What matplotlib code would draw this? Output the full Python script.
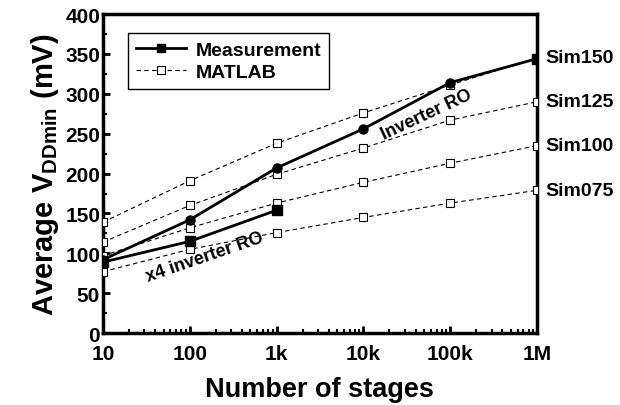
import matplotlib.pyplot as plt
from matplotlib.ticker import FixedLocator, MultipleLocator, LogLocator, NullFormatter

plt.rcParams['font.family'] = ['Liberation Sans', 'DejaVu Sans']
plt.rcParams['font.weight'] = 'bold'
plt.rcParams['mathtext.fontset'] = 'custom'
plt.rcParams['mathtext.bf'] = 'Liberation Sans:bold'

stages = [10, 100, 1e3, 1e4, 1e5, 1e6]
stage_labels = ['10', '100', '1k', '10k', '100k', '1M']

sim_names = ['Sim150', 'Sim125', 'Sim100', 'Sim075']
sim150 = [139, 191, 238, 276, 311, 345]
sim125 = [114, 160, 199, 232, 267, 290]
sim100 = [97, 132, 163, 189, 213, 235]
sim075 = [77, 105, 126, 145, 163, 179]

inv_ro = [92, 142, 207, 256, 314, 344]
x4_stages = [10, 100, 1e3]
x4_ro = [89, 115, 154]

fig, ax = plt.subplots(figsize=(6.2, 4.06), dpi=100)
fig.subplots_adjust(left=0.166, right=0.866, top=0.963, bottom=0.177)

for vals in [sim150, sim125, sim100, sim075]:
    ax.plot(stages, vals, ls=(0, (4, 3)), lw=0.8, color='black', marker='s',
            ms=6, mfc='white', mec='black', mew=0.8, zorder=3)

ax.plot(stages[:5], inv_ro[:5], '-o', color='black', lw=2, ms=6.5, zorder=4)
ax.plot(stages[4:], inv_ro[4:], '-', color='black', lw=2, zorder=4)
ax.plot(stages[5:], inv_ro[5:], 's', color='black', ms=6.5, zorder=4)
ax.plot(x4_stages, x4_ro, '-s', color='black', lw=2, ms=6.5, zorder=4)

# legend proxies
ax.plot([], [], '-s', color='black', lw=2, ms=6, label='Measurement')
ax.plot([], [], ls=(0, (4, 3)), lw=0.8, color='black', marker='s', ms=6,
        mfc='white', mec='black', mew=0.8, label='MATLAB')
handles, labels = ax.get_legend_handles_labels()
leg = ax.legend(handles[-2:], labels[-2:], loc='upper left', bbox_to_anchor=(0.035, 0.97),
                fancybox=False, edgecolor='black', framealpha=1, fontsize=14,
                handlelength=2.6, handletextpad=0.5, borderpad=0.4, labelspacing=0.25)
leg.get_frame().set_linewidth(1.0)

ax.text(5.4e4, 275, 'Inverter RO', rotation=25, ha='center', va='center', fontsize=13,
        fontweight='bold')
ax.text(1.5e2, 96, 'x4 inverter RO', rotation=19, ha='center', va='center', fontsize=13,
        fontweight='bold')

for name, vals in zip(sim_names, [sim150, sim125, sim100, sim075]):
    ax.annotate(name, xy=(1e6, vals[-1]), xytext=(6, 0), textcoords='offset points',
                ha='left', va='center', fontsize=14, fontweight='bold', annotation_clip=False)

ax.set_xscale('log')
ax.set_xlim(10, 1e6)
ax.set_ylim(0, 400)
ax.xaxis.set_major_locator(FixedLocator(stages))
ax.set_xticklabels(stage_labels)
ax.xaxis.set_minor_locator(LogLocator(base=10, subs=range(2, 10), numticks=20))
ax.xaxis.set_minor_formatter(NullFormatter())
ax.yaxis.set_major_locator(MultipleLocator(50))
ax.yaxis.set_minor_locator(MultipleLocator(25))

ax.tick_params(axis='both', which='major', direction='in', length=5, width=2,
               labelsize=15)
ax.tick_params(axis='x', which='major', pad=8)
ax.tick_params(axis='y', which='major', pad=2)
ax.tick_params(axis='both', which='minor', direction='in', length=3, width=1.5)
for lab in ax.get_xticklabels() + ax.get_yticklabels():
    lab.set_fontweight('bold')
for sp in ax.spines.values():
    sp.set_linewidth(2.5)

ax.set_xlabel('Number of stages', fontsize=19.5, fontweight='bold', labelpad=9)
ax.set_ylabel('Average V$_{\\mathbf{DDmin}}$ (mV)', fontsize=21, fontweight='bold', labelpad=3)

plt.savefig('out.png', dpi=100)
plt.close()
